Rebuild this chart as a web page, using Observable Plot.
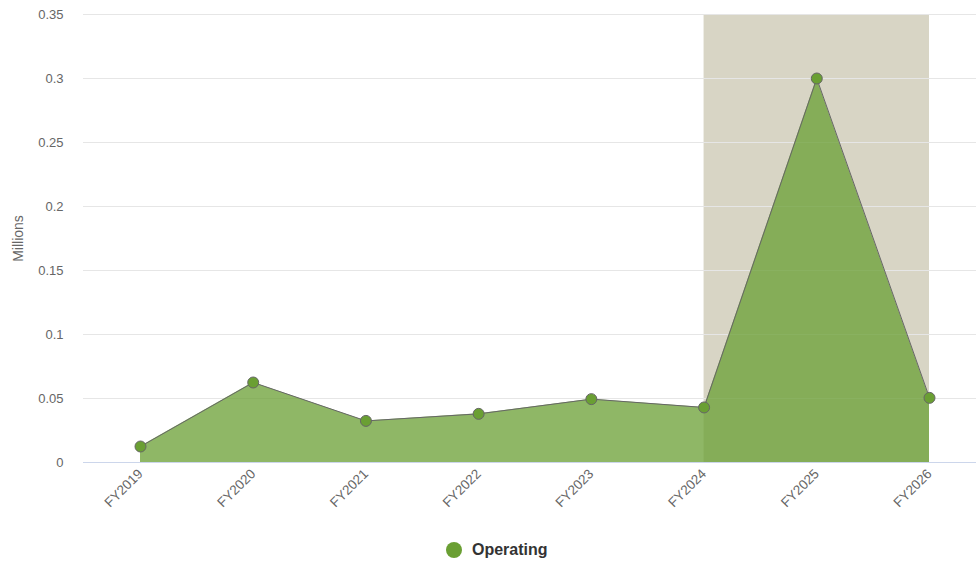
<!DOCTYPE html>
<html>
<head>
<meta charset="utf-8">
<script src="https://cdn.jsdelivr.net/npm/d3@7"></script>
<script src="https://cdn.jsdelivr.net/npm/@observablehq/plot@0.6"></script>
<style>
  body { margin: 0; background: #fff; font-family: "Liberation Sans", Arial, sans-serif; }
  #chart svg { display: block; }
  #legend { position: absolute; top: 539px; left: 446px; height: 22px; display: flex; align-items: center; font-weight: bold; font-size: 16px; color: #333; }
  #legend .dot { width: 16px; height: 16px; border-radius: 50%; background: #6a9f33; margin-right: 10px; }
</style>
</head>
<body>
<div id="chart"></div>
<div id="legend"><span class="dot"></span><span>Operating</span></div>
<script>
const years = ["FY2019","FY2020","FY2021","FY2022","FY2023","FY2024","FY2025","FY2026"];
const operating = [0.0125, 0.0625, 0.0325, 0.038, 0.0495, 0.043, 0.300, 0.0505];
const yTicks = [0, 0.05, 0.1, 0.15, 0.2, 0.25, 0.3, 0.35];
const forecastStart = "FY2024";
const forecastEnd = "FY2026";
const axisTitle = "Millions";

const data = years.map((y, i) => ({year: y, value: operating[i]}));
const green = "#6a9f33";

const chart = Plot.plot({
  width: 976,
  height: 520,
  marginLeft: 83,
  marginRight: 0,
  marginTop: 14,
  marginBottom: 58,
  style: {fontFamily: "'Liberation Sans', Arial, sans-serif", fontSize: "13px", color: "#666"},
  x: {type: "point", domain: years, range: [140, 929], padding: 0, round: false, label: null},
  y: {domain: [0, 0.35], label: null},
  marks: [
    Plot.rect([{x1: forecastStart, x2: forecastEnd}], {x1: "x1", x2: "x2", y1: 0, y2: 0.35, fill: "#d8d5c5"}),
    Plot.ruleY(yTicks.filter(d => d > 0), {stroke: "#e6e6e6", strokeWidth: 1}),
    Plot.areaY(data, {x: "year", y: "value", fill: green, fillOpacity: 0.75}),
    Plot.lineY(data, {x: "year", y: "value", stroke: "#666", strokeWidth: 1}),
    Plot.ruleY([0], {stroke: "#ccd6eb", strokeWidth: 1}),
    Plot.dot(data, {x: "year", y: "value", r: 5.5, fill: green, stroke: "#666", strokeWidth: 1}),
    Plot.axisY(yTicks, {tickSize: 0, tickPadding: 20, tickFormat: d => String(+d.toFixed(2)), fontSize: 13, fill: "#666", label: null}),
    Plot.axisX({tickSize: 0, tickPadding: 9, tickRotate: -45, fontSize: 13.5, fill: "#666", label: null}),
    Plot.text([axisTitle], {frameAnchor: "left", dx: -65, rotate: -90, textAnchor: "middle", fontSize: 14, fill: "#666"})
  ]
});
document.getElementById("chart").append(chart);
</script>
</body>
</html>
